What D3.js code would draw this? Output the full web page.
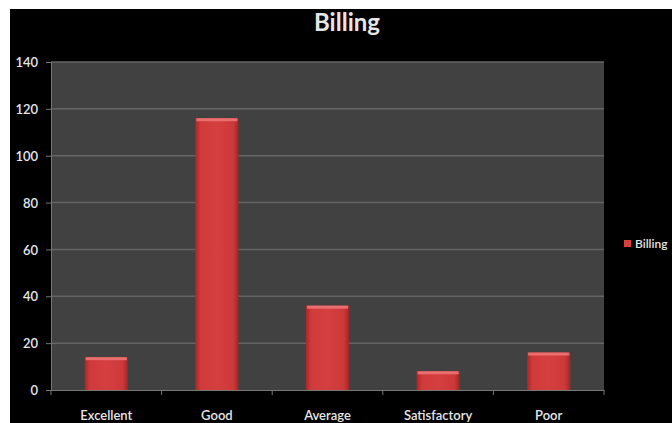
<!DOCTYPE html>
<html>
<head>
<meta charset="utf-8">
<script src="https://cdn.jsdelivr.net/npm/d3@7"></script>
<style>
  html, body { margin: 0; padding: 0; background: #ffffff; overflow: hidden; }
  svg { display: block; }
  text { font-family: Lato, "Open Sans", sans-serif; fill: #e6e6e6; }
</style>
</head>
<body>
<svg id="chart" width="672" height="423"></svg>
<script>
// Billing survey responses
const categories = ["Excellent", "Good", "Average", "Satisfactory", "Poor"];
const values = [14, 116, 36, 8, 16];
const yTicks = [0, 20, 40, 60, 80, 100, 120, 140];
const seriesName = "Billing";

const W = 672, H = 423;
const plot = { left: 51, right: 604, top: 62, bottom: 390 };

const svg = d3.select("#chart");

// black chart background with white margin top/left
svg.append("rect").attr("x", 10).attr("y", 9).attr("width", W - 10).attr("height", H - 9).attr("fill", "#000");

const defs = svg.append("defs");
const grad = defs.append("linearGradient").attr("id", "barGrad").attr("x1", 0).attr("x2", 1).attr("y1", 0).attr("y2", 0);
grad.append("stop").attr("offset", "0%").attr("stop-color", "#a82828");
grad.append("stop").attr("offset", "12%").attr("stop-color", "#cf3a3a");
grad.append("stop").attr("offset", "50%").attr("stop-color", "#d63f3f");
grad.append("stop").attr("offset", "88%").attr("stop-color", "#cc3939");
grad.append("stop").attr("offset", "100%").attr("stop-color", "#a02626");

const x = d3.scaleBand().domain(categories).range([plot.left, plot.right]).paddingInner(0.61).paddingOuter(0.305);
const y = d3.scaleLinear().domain([0, 140]).range([plot.bottom, plot.top]);

// plot area
svg.append("rect")
  .attr("x", plot.left).attr("y", plot.top)
  .attr("width", plot.right - plot.left).attr("height", plot.bottom - plot.top)
  .attr("fill", "#414141");

// gridlines
svg.append("g").selectAll("line").data(yTicks.filter(d => d > 0)).join("line")
  .attr("x1", plot.left).attr("x2", plot.right)
  .attr("y1", d => y(d)).attr("y2", d => y(d))
  .attr("stroke", "#646464").attr("stroke-width", 1.5);

// y axis
const yAxis = svg.append("g").attr("transform", `translate(${plot.left},0)`)
  .call(d3.axisLeft(y).tickValues(yTicks).tickSize(5).tickPadding(8));
yAxis.select(".domain").attr("stroke", "#777");
yAxis.selectAll(".tick line").attr("stroke", "#777");
yAxis.selectAll(".tick text").attr("fill", "#e6e6e6").style("font-size", "13px").style("font-weight", "600")
  .style("font-family", "Lato, sans-serif").attr("dy", "0.36em");

// x axis
const xAxis = svg.append("g").attr("transform", `translate(0,${plot.bottom})`)
  .call(d3.axisBottom(x).tickSize(0).tickPadding(21));
xAxis.select(".domain").attr("stroke", "#777");
xAxis.selectAll(".tick text").attr("fill", "#e6e6e6").style("font-size", "13px").style("font-weight", "600")
  .style("font-family", "Lato, sans-serif");
// category separators
const bounds = categories.map(c => x(c) - x.step() * x.paddingInner() / 2).concat([plot.right]);
svg.append("g").selectAll("line").data(bounds).join("line")
  .attr("x1", d => d).attr("x2", d => d)
  .attr("y1", plot.bottom).attr("y2", plot.bottom + 5)
  .attr("stroke", "#777");

// bars
const bars = svg.append("g").selectAll("g").data(values).join("g");
bars.append("rect")
  .attr("x", (d, i) => x(categories[i])).attr("y", d => y(d))
  .attr("width", x.bandwidth()).attr("height", d => y(0) - y(d))
  .attr("fill", "url(#barGrad)");
bars.append("rect")
  .attr("x", (d, i) => x(categories[i]) + 1).attr("y", d => y(d))
  .attr("width", x.bandwidth() - 2).attr("height", 3)
  .attr("fill", "#ee7474").attr("opacity", 0.9);

// title
svg.append("text").attr("x", 347).attr("y", 31).attr("text-anchor", "middle")
  .style("font-size", "24px").style("font-weight", "700").attr("fill", "#f2f2f2").text(seriesName);

// legend
svg.append("rect").attr("x", 624).attr("y", 240).attr("width", 7).attr("height", 7).attr("fill", "#d83e3e");
svg.append("text").attr("x", 635).attr("y", 248).style("font-size", "12px").style("font-weight", "600")
  .attr("fill", "#dcdcdc").text(seriesName);
</script>
</body>
</html>
